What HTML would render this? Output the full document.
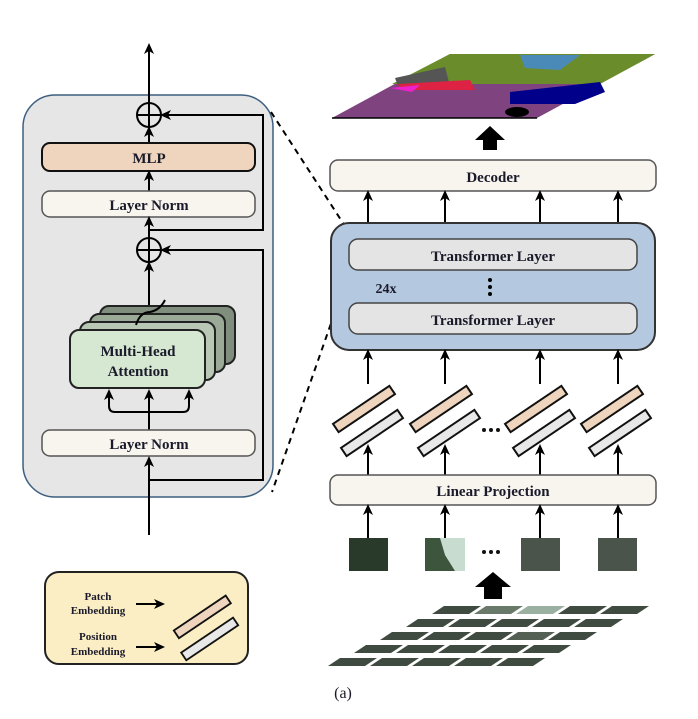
<!DOCTYPE html>
<html><head><meta charset="utf-8"><style>
html,body{margin:0;padding:0;background:#fff;}
svg{display:block;}
text{font-family:"Liberation Serif",serif;font-weight:bold;fill:#1a1a2a;}
</style></head><body>
<svg width="698" height="719" viewBox="0 0 698 719" xmlns="http://www.w3.org/2000/svg">
<defs>
<marker id="ah" markerWidth="11" markerHeight="10" refX="8" refY="5" orient="auto" markerUnits="userSpaceOnUse"><path d="M0,0 L11,5 L0,10 L3,5 Z" fill="#000"/></marker>
<g id="emb">
  <rect x="-34" y="-5" width="68" height="10" fill="#efd5bd" stroke="#111" stroke-width="2" transform="translate(-4,-11) rotate(-34)"/>
  <rect x="-34" y="-5" width="68" height="10" fill="#e8e8e8" stroke="#111" stroke-width="2" transform="translate(4,13) rotate(-34)"/>
</g>
</defs>

<!-- Left panel -->
<rect x="23" y="95" width="250" height="402" rx="32" fill="#e6e6e6" stroke="#3d5f80" stroke-width="1.5"/>
<line x1="149" y1="103" x2="149" y2="46" stroke="#000" stroke-width="2" marker-end="url(#ah)"/>
<circle cx="149" cy="115" r="12" fill="none" stroke="#000" stroke-width="2"/>
<line x1="137" y1="115" x2="161" y2="115" stroke="#000" stroke-width="2"/>
<line x1="149" y1="103" x2="149" y2="127" stroke="#000" stroke-width="2"/>
<path d="M149,230 L263,230 L263,115 L163,115" fill="none" stroke="#000" stroke-width="2" marker-end="url(#ah)"/>
<line x1="149" y1="143" x2="149" y2="129" stroke="#000" stroke-width="2" marker-end="url(#ah)"/>
<rect x="42" y="143" width="213" height="28" rx="8" fill="#efd5bd" stroke="#111" stroke-width="2"/>
<text x="149" y="163" font-size="15" text-anchor="middle">MLP</text>
<line x1="149" y1="191" x2="149" y2="173" stroke="#000" stroke-width="2" marker-end="url(#ah)"/>
<rect x="42" y="191" width="213" height="26" rx="8" fill="#f7f5ee" stroke="#555" stroke-width="1.5"/>
<text x="149" y="210" font-size="15" text-anchor="middle">Layer Norm</text>
<line x1="149" y1="238" x2="149" y2="219" stroke="#000" stroke-width="2" marker-end="url(#ah)"/>
<circle cx="149" cy="250" r="12" fill="none" stroke="#000" stroke-width="2"/>
<line x1="137" y1="250" x2="161" y2="250" stroke="#000" stroke-width="2"/>
<line x1="149" y1="238" x2="149" y2="262" stroke="#000" stroke-width="2"/>
<path d="M149,480 L263,480 L263,250 L163,250" fill="none" stroke="#000" stroke-width="2" marker-end="url(#ah)"/>
<line x1="149" y1="330" x2="149" y2="264" stroke="#000" stroke-width="2" marker-end="url(#ah)"/>
<!-- Multi-head stack -->
<rect x="100" y="306" width="135" height="58" rx="9" fill="#7f8e7d" stroke="#222" stroke-width="2"/>
<rect x="90" y="314" width="135" height="58" rx="9" fill="#9aaa97" stroke="#222" stroke-width="2"/>
<rect x="80" y="322" width="135" height="58" rx="9" fill="#b8c8b4" stroke="#222" stroke-width="2"/>
<path d="M136,325 Q140,312 150,312 Q160,310 165,300" fill="none" stroke="#000" stroke-width="2"/>
<rect x="70" y="330" width="135" height="58" rx="9" fill="#d6e8d2" stroke="#222" stroke-width="2"/>
<text x="138" y="356" font-size="15" text-anchor="middle">Multi-Head</text>
<text x="138" y="376" font-size="15" text-anchor="middle">Attention</text>
<line x1="149" y1="430" x2="149" y2="392" stroke="#000" stroke-width="2" marker-end="url(#ah)"/>
<path d="M149,412 L115,412 Q109,412 109,406 L109,392" fill="none" stroke="#000" stroke-width="2" marker-end="url(#ah)"/>
<path d="M149,412 L183,412 Q189,412 189,406 L189,392" fill="none" stroke="#000" stroke-width="2" marker-end="url(#ah)"/>
<rect x="42" y="430" width="213" height="26" rx="8" fill="#f7f5ee" stroke="#555" stroke-width="1.5"/>
<text x="149" y="449" font-size="15" text-anchor="middle">Layer Norm</text>
<line x1="149" y1="535" x2="149" y2="459" stroke="#000" stroke-width="2" marker-end="url(#ah)"/>

<!-- dashed -->
<line x1="271" y1="112" x2="354" y2="240" stroke="#000" stroke-width="2" stroke-dasharray="6,5"/>
<line x1="349" y1="272" x2="272" y2="492" stroke="#000" stroke-width="2" stroke-dasharray="6,5"/>

<!-- Legend -->
<rect x="45" y="572" width="203" height="92" rx="14" fill="#fbeec5" stroke="#222" stroke-width="2"/>
<text x="98" y="600" font-size="11" text-anchor="middle">Patch</text>
<text x="98" y="614" font-size="11" text-anchor="middle">Embedding</text>
<text x="98" y="640" font-size="11" text-anchor="middle">Position</text>
<text x="98" y="655" font-size="11" text-anchor="middle">Embedding</text>
<line x1="136" y1="604" x2="162" y2="604" stroke="#000" stroke-width="2" marker-end="url(#ah)"/>
<line x1="136" y1="647" x2="162" y2="647" stroke="#000" stroke-width="2" marker-end="url(#ah)"/>
<use href="#emb" transform="translate(206,627) scale(0.92)"/>

<!-- Segmentation map -->
<polygon points="332,118 537,118 655,54 450,54" fill="#7f4380"/>
<polygon points="392,84 600,84 648,58 655,54 450,54" fill="#6b8c2a"/>
<polygon points="520,55 580,55 560,70 525,68" fill="#4a8ab8"/>
<polygon points="395,78 445,67 450,86 398,86" fill="#555"/>
<polygon points="398,84 470,80 475,90 400,90" fill="#dd2244"/>
<polygon points="510,92 600,82 605,92 575,104 510,104" fill="#00008a"/>
<polygon points="390,88 420,85 412,92" fill="#ee22cc"/>
<ellipse cx="517" cy="112" rx="12" ry="5" fill="#000"/>
<line x1="332" y1="118" x2="537" y2="118" stroke="#000" stroke-width="1.5"/>
<!-- big arrow -->
<polygon points="490,126 505,140 497,140 497,150 483,150 483,140 475,140" fill="#000"/>

<!-- Decoder -->
<rect x="330" y="160" width="326" height="31" rx="8" fill="#f7f5ee" stroke="#555" stroke-width="1.5"/>
<text x="493" y="182" font-size="15" text-anchor="middle">Decoder</text>
<g stroke="#000" stroke-width="2" marker-end="url(#ah)">
<line x1="368" y1="222" x2="368" y2="193"/><line x1="445" y1="222" x2="445" y2="193"/>
<line x1="540" y1="222" x2="540" y2="193"/><line x1="618" y1="222" x2="618" y2="193"/>
</g>
<rect x="331" y="223" width="324" height="127" rx="18" fill="#b4c8e0" stroke="#333" stroke-width="2"/>
<rect x="349" y="239" width="288" height="31" rx="9" fill="#e4e4e4" stroke="#444" stroke-width="1.5"/>
<text x="493" y="261" font-size="15" text-anchor="middle">Transformer Layer</text>
<rect x="349" y="303" width="288" height="31" rx="9" fill="#e4e4e4" stroke="#444" stroke-width="1.5"/>
<text x="493" y="325" font-size="15" text-anchor="middle">Transformer Layer</text>
<text x="386" y="293" font-size="14" text-anchor="middle">24x</text>
<circle cx="490" cy="280" r="2" fill="#000"/><circle cx="490" cy="287" r="2" fill="#000"/><circle cx="490" cy="294" r="2" fill="#000"/>
<g stroke="#000" stroke-width="2" marker-end="url(#ah)">
<line x1="368" y1="384" x2="368" y2="352"/><line x1="445" y1="384" x2="445" y2="352"/>
<line x1="540" y1="384" x2="540" y2="352"/><line x1="618" y1="384" x2="618" y2="352"/>
</g>
<use href="#emb" transform="translate(368,420)"/>
<use href="#emb" transform="translate(445,420)"/>
<use href="#emb" transform="translate(540,420)"/>
<use href="#emb" transform="translate(616,420)"/>
<g fill="#111"><circle cx="484" cy="430" r="2"/><circle cx="491" cy="430" r="2"/><circle cx="498" cy="430" r="2"/></g>
<g stroke="#000" stroke-width="2" marker-end="url(#ah)">
<line x1="368" y1="476" x2="368" y2="447"/><line x1="445" y1="476" x2="445" y2="447"/>
<line x1="540" y1="476" x2="540" y2="447"/><line x1="618" y1="476" x2="618" y2="447"/>
</g>
<rect x="330" y="475" width="326" height="30" rx="8" fill="#f7f5ee" stroke="#555" stroke-width="1.5"/>
<text x="493" y="496" font-size="15" text-anchor="middle">Linear Projection</text>
<g stroke="#000" stroke-width="2" marker-end="url(#ah)">
<line x1="368" y1="538" x2="368" y2="507"/><line x1="445" y1="538" x2="445" y2="507"/>
<line x1="540" y1="538" x2="540" y2="507"/><line x1="618" y1="538" x2="618" y2="507"/>
</g>
<rect x="349" y="538" width="39" height="33" fill="#2a3a2a"/>
<rect x="425" y="538" width="40" height="33" fill="#3d553d"/>
<polygon points="440,538 465,538 465,571 455,571 445,555" fill="#c8dcd0"/>
<rect x="521" y="538" width="39" height="33" fill="#4a544a"/>
<rect x="598" y="538" width="39" height="33" fill="#4a544a"/>
<g fill="#111"><circle cx="484" cy="552" r="2"/><circle cx="491" cy="552" r="2"/><circle cx="498" cy="552" r="2"/></g>
<polygon points="493,572 511,587 502,587 502,599 484,599 484,587 475,587" fill="#000"/>
<!-- patches grid -->
<g fill="#3f4a40">
<polygon points="444,606 481,606 469,614 432,614"/><polygon points="486,606 523,606 511,614 474,614" fill="#6a7a6a"/><polygon points="528,606 565,606 553,614 516,614" fill="#9ab0a0"/><polygon points="570,606 607,606 595,614 558,614"/><polygon points="612,606 649,606 637,614 600,614"/>
<polygon points="418,619 455,619 443,627 406,627"/><polygon points="460,619 497,619 485,627 448,627"/><polygon points="502,619 539,619 527,627 490,627"/><polygon points="544,619 581,619 569,627 532,627"/><polygon points="586,619 623,619 611,627 574,627"/>
<polygon points="392,632 429,632 417,640 380,640"/><polygon points="434,632 471,632 459,640 422,640"/><polygon points="476,632 513,632 501,640 464,640"/><polygon points="518,632 555,632 543,640 506,640" fill="#556055"/><polygon points="560,632 597,632 585,640 548,640"/>
<polygon points="366,645 403,645 391,653 354,653"/><polygon points="408,645 445,645 433,653 396,653"/><polygon points="450,645 487,645 475,653 438,653"/><polygon points="492,645 529,645 517,653 480,653"/><polygon points="534,645 571,645 559,653 522,653"/>
<polygon points="340,658 377,658 365,666 328,666"/><polygon points="382,658 419,658 407,666 370,666"/><polygon points="424,658 461,658 449,666 412,666"/><polygon points="466,658 503,658 491,666 454,666"/><polygon points="508,658 545,658 533,666 496,666"/>
</g>
<text x="343" y="698" font-size="16" text-anchor="middle" style="font-weight:normal">(a)</text>
</svg>
</body></html>
